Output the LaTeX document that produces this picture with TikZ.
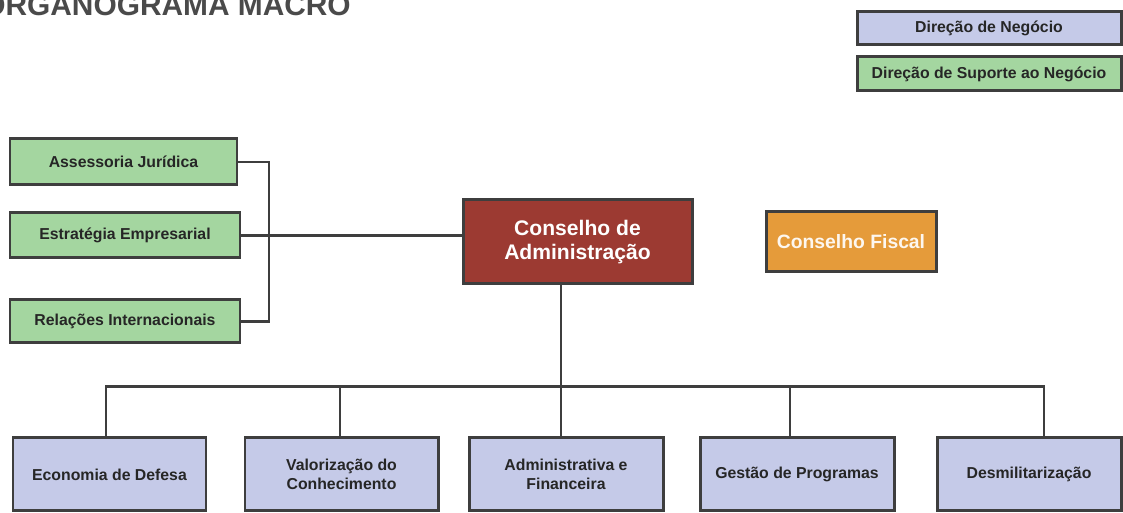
\documentclass[tikz,border=0pt]{standalone}
\usepackage{fontspec}
\setsansfont{Liberation Sans}
\definecolor{negocio}{RGB}{197,202,232}
\definecolor{suporte}{RGB}{164,214,160}
\definecolor{conselho}{RGB}{156,58,50}
\definecolor{fiscal}{RGB}{229,155,58}
\definecolor{borda}{RGB}{62,62,62}
\definecolor{titulo}{RGB}{74,74,74}
\tikzset{
  unit/.style={draw=borda,line width=1.7pt,align=center,inner sep=2pt,
    text=black!85,font=\sffamily\bfseries\fontsize{9}{11}\selectfont},
  neg/.style={unit,fill=negocio},
  sup/.style={unit,fill=suporte},
  link/.style={draw=borda,line width=1.4pt}
}

\begin{document}
\begin{tikzpicture}
\useasboundingbox (0,0) rectangle (22.46,10.26);
\def\h{1.46}
\node[anchor=base west,inner sep=0,text=titulo,font=\sffamily\bfseries\fontsize{17}{17}\selectfont] (titulo) at (-0.36,9.94) {ORGANOGRAMA MACRO};
% legenda
\node[neg,minimum width=5.28cm,minimum height=0.66cm] (leg1) at (19.78,9.69) {Direção de Negócio};
\node[sup,minimum width=5.28cm,minimum height=0.68cm] (leg2) at (19.78,8.78) {Direção de Suporte ao Negócio};
% suporte
\node[sup,minimum width=4.54cm,minimum height=0.92cm] (ass) at (2.47,7.02) {Assessoria Jurídica};
\node[sup,minimum width=4.60cm,minimum height=0.90cm] (est) at (2.50,5.55) {Estratégia Empresarial};
\node[sup,minimum width=4.60cm,minimum height=0.86cm] (rel) at (2.50,3.83) {Relações Internacionais};
% conselhos
\node[unit,fill=conselho,text=white,minimum width=4.58cm,minimum height=1.68cm,
  font=\sffamily\bfseries\fontsize{12}{14}\selectfont] (ca) at (11.55,5.42) {Conselho de\\Administração};
\node[unit,fill=fiscal,text=white!92!fiscal,minimum width=3.40cm,minimum height=1.20cm,
  font=\sffamily\bfseries\fontsize{11}{13}\selectfont] (cf) at (17.02,5.42) {Conselho Fiscal};
% direcoes
\node[neg,minimum width=3.86cm,minimum height=\h cm] (eco) at (2.19,0.77) {Economia de Defesa};
\node[neg,minimum width=3.86cm,minimum height=\h cm] (val) at (6.83,0.77) {Valorização do\\Conhecimento};
\node[neg,minimum width=3.88cm,minimum height=\h cm] (adm) at (11.32,0.77) {Administrativa e\\Financeira};
\node[neg,minimum width=3.88cm,minimum height=\h cm] (ges) at (15.94,0.77) {Gestão de Programas};
\node[neg,minimum width=3.68cm,minimum height=\h cm] (des) at (20.58,0.77) {Desmilitarização};
% ligacoes
\coordinate (brk) at (5.38,0);
\draw[link] (ass.east) -- (ass.east -| brk) |- (rel.east);
\draw[link] (est.east) -- (est.east -| ca.west);
\draw[link] ([xshift=-3.3mm]ca.south) -- ++(0,-2.02) coordinate (hub);
\foreach \n/\dx in {eco/-0.07,val/-0.03,adm/-0.1,ges/-0.14,des/0.3}
  \draw[link] (hub) -| ([xshift=\dx cm]\n.north);
\end{tikzpicture}
\end{document}
